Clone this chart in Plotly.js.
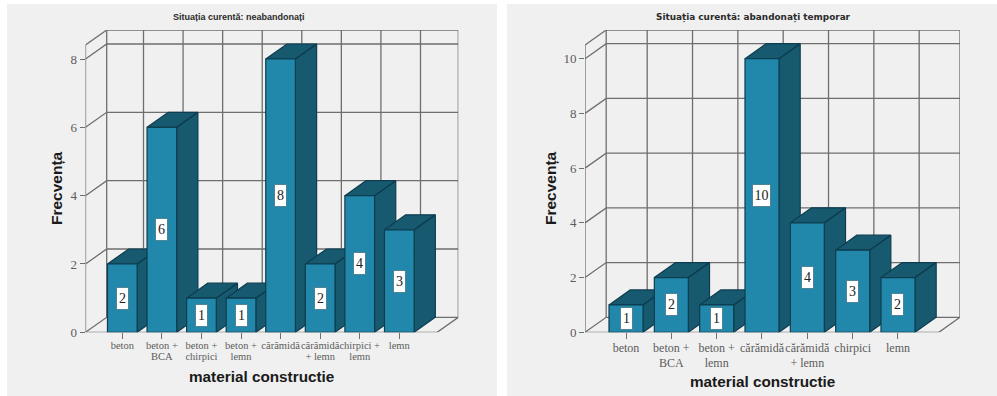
<!DOCTYPE html>
<html>
<head>
<meta charset="utf-8">
<script src="https://cdn.plot.ly/plotly-3.0.1.min.js"></script>
<style>html,body{margin:0;padding:0;background:#fff}#chart{width:997px;height:396px}</style>
</head>
<body>
<div id="chart"></div>
<script>
// Frequencies of building material, one panel per current status
const titleActive = "Situația curentă: neabandonați";
const categoriesActive = ["beton", "beton +<br>BCA", "beton +<br>chirpici", "beton +<br>lemn", "cărămidă", "cărămidă<br>+ lemn", "chirpici +<br>lemn", "lemn"];
const countsActive = [2, 6, 1, 1, 8, 2, 4, 3];
const yTicksActive = [0, 2, 4, 6, 8];

const titleTemporary = "Situația curentă: abandonați temporar";
const categoriesTemporary = ["beton", "beton +<br>BCA", "beton +<br>lemn", "cărămidă", "cărămidă<br>+ lemn", "chirpici", "lemn"];
const countsTemporary = [1, 2, 1, 10, 4, 3, 2];
const yTicksTemporary = [0, 2, 4, 6, 8, 10];

const xAxisName = "material constructie";
const yAxisName = "Frecvența";

const W = 997, H = 396;
const FLOOR_PX = 332.3, TOP_PX = 30, DEPTH_DX = 21.2, DEPTH_DY = 15;
const BAR_WIDTH = 0.75;
const FACE = "#2187ab", SHADE = "#175a70", EDGE = "#0d3d4f", GRID = "#6e6e6e", TEXT = "#5c5c5c";
const SERIF = "Liberation Serif, serif", SANS = "Liberation Sans, Arial, sans-serif";

const data = [], shapes = [], annotations = [], layout = {};

function addPanel(o) {
  const ax = o.index === 0 ? ["", "", 3] : [2, 2, 4];
  const xId = "x" + ax[0], yId = "y" + ax[1], xTop = "x" + ax[2], yTop = "y" + ax[2];
  const pitch = o.pitch, unit = o.unit;
  const dx = DEPTH_DX / pitch, dy = DEPTH_DY / unit;
  const x0 = (o.leftPx - o.firstPx) / pitch;
  const xBack = (o.rightPx - o.firstPx) / pitch;
  const xFront = xBack - dx;
  const yBack = (FLOOR_PX - TOP_PX) / unit;
  const yFront = yBack - dy;
  const idx = o.categories.map((_, i) => i);

  // wall, floor and frame lines
  const gx = [], gy = [];
  o.yTicks.forEach(t => {
    gx.push(x0, x0 + dx, xBack, null);
    gy.push(t, t + dy, t + dy, null);
  });
  idx.forEach(i => {
    gx.push(i + dx, i + dx, null);
    gy.push(dy, yBack, null);
  });
  gx.push(x0, x0, x0 + dx, xBack, xBack, xFront, x0, null);
  gy.push(0, yFront, yBack, yBack, dy, 0, 0, null);
  gx.push(x0 + dx, x0 + dx, null);
  gy.push(dy, yBack, null);
  data.push({type: "scatter", mode: "lines", x: gx, y: gy, xaxis: xId, yaxis: yId, cliponaxis: false,
    line: {color: GRID, width: 1.3}, hoverinfo: "skip", showlegend: false});

  // top and side faces, painted left to right so each bar covers its neighbour
  o.values.forEach((v, i) => {
    const l = i - BAR_WIDTH / 2, r = i + BAR_WIDTH / 2;
    data.push({type: "scatter", mode: "lines", fill: "toself", fillcolor: SHADE,
      x: [l, l + dx, r + dx, r, l, null, r, r + dx, r + dx, r, r],
      y: [v, v + dy, v + dy, v, v, null, v, v + dy, dy, 0, v],
      xaxis: xId, yaxis: yId, cliponaxis: false,
      line: {color: EDGE, width: 1.2}, hoverinfo: "skip", showlegend: false});
  });

  // front faces sit on an overlaid axis pair so they stay above every side face
  data.push({type: "bar", x: idx, y: o.values, width: BAR_WIDTH, xaxis: xTop, yaxis: yTop, cliponaxis: false,
    marker: {color: FACE, line: {color: EDGE, width: 1.2}}, showlegend: false,
    hovertemplate: "%{y}<extra></extra>"});

  const domainX = [o.leftPx / W, o.rightPx / W];
  const domainY = [1 - FLOOR_PX / H, 1 - TOP_PX / H];
  const xRange = [x0, xBack], yRange = [0, yBack];

  layout["xaxis" + ax[0]] = {domain: domainX, range: xRange, anchor: yId, type: "linear",
    tickmode: "array", tickvals: idx, ticktext: o.categories, ticks: "outside", ticklen: 6, tickcolor: GRID, tickwidth: 1,
    tickangle: 0, tickfont: {family: SERIF, size: o.catSize, color: TEXT}, ticklabelstandoff: o.catStandoff,
    showgrid: false, zeroline: false, showline: false};
  layout["yaxis" + ax[1]] = {domain: domainY, range: yRange, anchor: xId, type: "linear",
    tickmode: "array", tickvals: o.yTicks, ticktext: o.yTicks.map(String), ticks: "outside", ticklen: 5, tickcolor: GRID, tickwidth: 1,
    tickfont: {family: SERIF, size: 13, color: TEXT},
    showgrid: false, zeroline: false, showline: false};
  layout["xaxis" + ax[2]] = {domain: domainX, range: xRange, anchor: yTop, overlaying: xId, visible: false, type: "linear"};
  layout["yaxis" + ax[2]] = {domain: domainY, range: yRange, anchor: xTop, overlaying: yId, visible: false, type: "linear"};

  // value tags centred on each bar's front face
  o.values.forEach((v, i) => annotations.push({
    xref: xTop, yref: yTop, x: i, y: v / 2, xanchor: "center", yanchor: "middle", text: String(v), showarrow: false,
    font: {family: SERIF, size: 14, color: "#222"}, bgcolor: "#ffffff",
    bordercolor: "#4f8496", borderwidth: 1, borderpad: 1, height: 19, width: String(v).length > 1 ? 15 : 9
  }));

  // grey card behind the panel
  shapes.push({type: "rect", xref: "paper", yref: "paper", layer: "below",
    x0: o.cardPx[0] / W, x1: o.cardPx[1] / W, y0: 0, y1: 1 - 4 / H,
    fillcolor: "#f0f0f0", line: {width: 0}});

  const centred = {xref: "paper", yref: "paper", xanchor: "center", yanchor: "middle", showarrow: false};
  annotations.push({...centred, x: o.titleX / W, y: 1 - 17 / H,
    text: "<b>" + o.title + "</b>", font: {family: o.titleFamily, size: o.titleSize, color: "#2b2b2b"}});
  annotations.push({...centred, x: o.xNameX / W, y: 1 - o.xNameY / H,
    text: "<b>" + xAxisName + "</b>", font: {family: SANS, size: 15.3, color: "#1a1a1a"}});
  annotations.push({...centred, x: o.yNameX / W, y: 1 - 188 / H, textangle: -90,
    text: "<b>" + yAxisName + "</b>", font: {family: SANS, size: 15.5, color: "#1a1a1a"}});
}

addPanel({index: 0, title: titleActive, categories: categoriesActive, values: countsActive, yTicks: yTicksActive,
  leftPx: 85.5, rightPx: 458.3, firstPx: 122.3, pitch: 39.57, unit: 34.16, catSize: 10.5, catStandoff: -3,
  cardPx: [7, 497], titleX: 239, titleFamily: SANS, titleSize: 9, xNameX: 261, xNameY: 376, yNameX: 57});

addPanel({index: 1, title: titleTemporary, categories: categoriesTemporary, values: countsTemporary, yTicks: yTicksTemporary,
  leftPx: 585, rightPx: 960, firstPx: 626, pitch: 45.33, unit: 27.36, catSize: 12, catStandoff: -2,
  cardPx: [507, 997], titleX: 753, titleFamily: "DejaVu Sans, sans-serif", titleSize: 8.9, xNameX: 762, xNameY: 381, yNameX: 551});

Object.assign(layout, {
  width: W, height: H, margin: {l: 0, r: 0, t: 0, b: 0}, autosize: false,
  paper_bgcolor: "#ffffff", plot_bgcolor: "rgba(0,0,0,0)", showlegend: false,
  barmode: "overlay", shapes: shapes, annotations: annotations
});

Plotly.newPlot("chart", data, layout, {displayModeBar: false}).then(() => {
  // tighten the leading of two-line category labels
  document.querySelectorAll(".xtick text tspan.line").forEach(t => {
    if (t.getAttribute("dy") && t.getAttribute("dy") !== "0em") t.setAttribute("dy", "1.08em");
  });
});
</script>
</body>
</html>
